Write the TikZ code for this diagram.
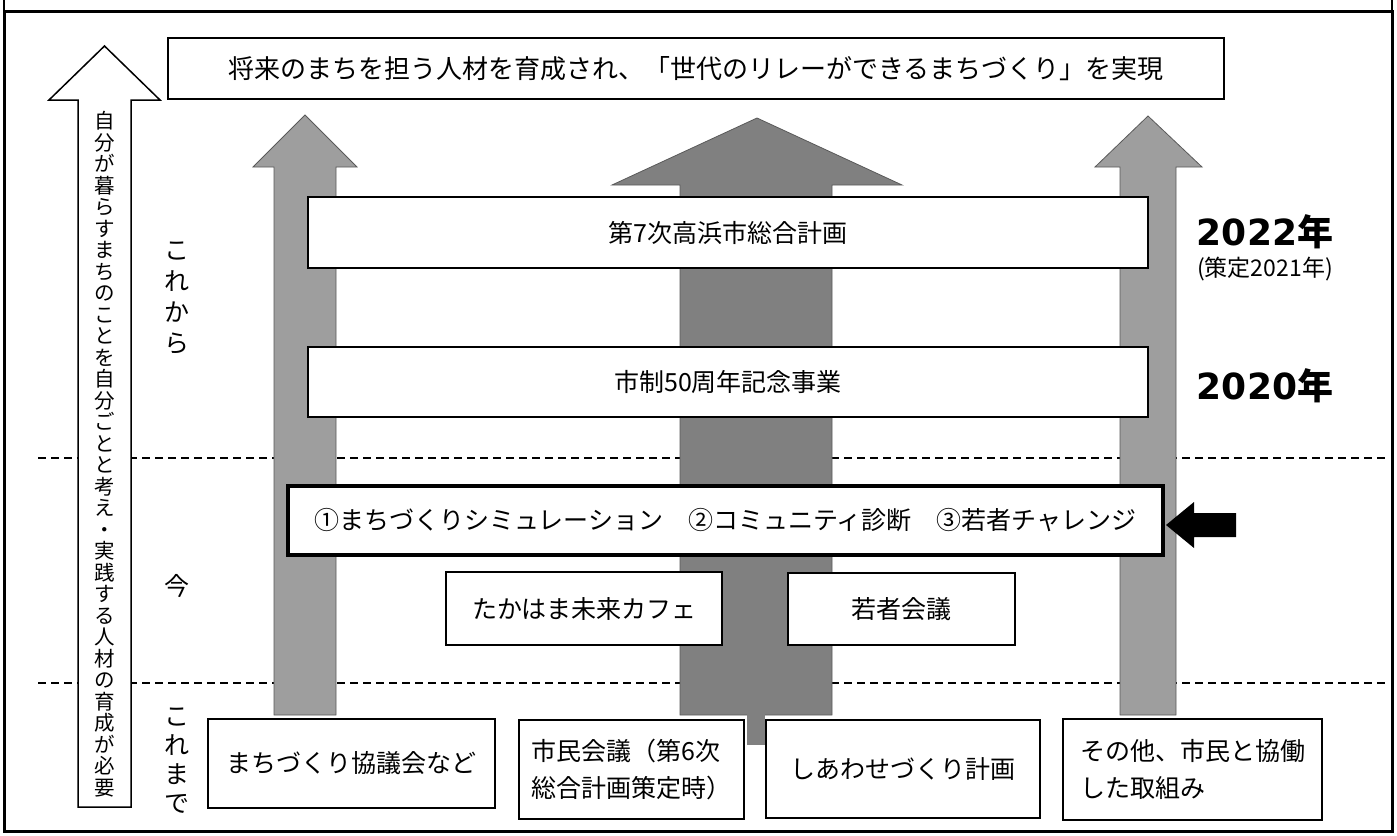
\documentclass[tikz,border=0pt]{standalone}
\usepackage{fontspec}
\setmainfont{Noto Sans CJK JP}
\newfontfamily\latinbold{DejaVu Sans}
\definecolor{texmid}{gray}{0.62}
\definecolor{texdark}{gray}{0.50}
\definecolor{texedge}{gray}{0.35}
\begin{document}
\begin{tikzpicture}[x=1pt,y=-1pt]
\tikzset{
  box/.style={draw=black, line width=1.8pt, fill=white, inner sep=0pt, font=\fontsize{25}{37}\selectfont},
  dashline/.style={draw=black, line width=1.5pt, dash pattern=on 8pt off 5pt},
  sidelabel/.style={inner sep=0pt, align=center},
  yearbig/.style={inner sep=0pt, anchor=base, font=\fontsize{36}{40}\selectfont\bfseries},
  tex/.style={draw=texedge, line width=0.8pt}
}
\useasboundingbox (0,0) rectangle (1397,835);
% outer frame
\draw[line width=3pt] (4,11) rectangle (1392,831);
\draw[line width=2pt] (4,0) -- (4,11) (1392,0) -- (1392,11);
% dashed separators
\coordinate (da1) at (38,458); \coordinate (db1) at (1386,458);
\coordinate (da2) at (38,683); \coordinate (db2) at (1386,683);
\draw[dashline] (da1) -- (db1);
\draw[dashline] (da2) -- (db2);
% textured arrows
\filldraw[tex, fill=texmid] (274,715) -- (274,167) -- (253,167) -- (305,115) -- (357,167) -- (336,167) -- (336,715) -- cycle;
\filldraw[tex, fill=texmid] (1120,715) -- (1120,167) -- (1095,167) -- (1148,116) -- (1202,167) -- (1176,167) -- (1176,715) -- cycle;
\filldraw[tex, fill=texdark] (680,715) -- (680,185) -- (612,185) -- (757,118) -- (902,185) -- (832,185) -- (832,715) -- cycle;
\fill[texdark] (747,714) rectangle (765,745);
% boxes
\node[box, line width=1.4pt, font=\fontsize{26}{30}\selectfont, minimum width=1056pt, minimum height=61pt] (goal) at (696,68.5) {将来のまちを担う人材を育成され、「世代のリレーができるまちづくり」を実現};
\node[box, minimum width=840pt, minimum height=71pt] (plan7) at (728,232.5) {第7次高浜市総合計画};
\node[box, minimum width=840pt, minimum height=70pt] (anniv) at (728,382) {市制50周年記念事業};
\node[box, line width=4.5pt, minimum width=875pt, minimum height=69pt] (now) at (725.5,520.5) {①まちづくりシミュレーション　②コミュニティ診断　③若者チャレンジ};
\node[box, minimum width=276pt, minimum height=73pt] (cafe) at (584,608.5) {たかはま未来カフェ};
\node[box, minimum width=227pt, minimum height=72pt] (youth) at (901.5,609) {若者会議};
\node[box, minimum width=287pt, minimum height=89pt] (council) at (351.5,763.5) {まちづくり協議会など};
\node[box, align=left, minimum width=225pt, minimum height=99pt] (citizen) at (631.5,769.5) {市民会議（第6次\\総合計画策定時）};
\node[box, minimum width=274pt, minimum height=98pt] (happy) at (903,769) {しあわせづくり計画};
\node[box, align=left, minimum width=259pt, minimum height=101pt] (other) at (1192.5,769.5) {その他、市民と協働\\した取組み};
% black pointer arrow
\fill[black] (1166,525) -- (1194,502) -- (1194,513) -- (1236,513) -- (1236,537) -- (1194,537) -- (1194,548) -- cycle;
% left hollow arrow
\filldraw[draw=black, fill=white, line width=1.5pt] (78,807) -- (78,100) -- (49,100) -- (104.5,46) -- (160,100) -- (131,100) -- (131,807) -- cycle;
\node[sidelabel, font=\fontsize{20.5}{21.5}\selectfont] (vtext) at (104.5,454) {自\\分\\が\\暮\\ら\\す\\ま\\ち\\の\\こ\\と\\を\\自\\分\\ご\\と\\と\\考\\え\\・\\実\\践\\す\\る\\人\\材\\の\\育\\成\\が\\必\\要};
% period labels
\node[sidelabel, font=\fontsize{25}{31}\selectfont] (future) at (177,298) {こ\\れ\\か\\ら};
\node[sidelabel, font=\fontsize{25}{30}\selectfont] (present) at (177,586) {今};
\node[sidelabel, font=\fontsize{25}{29}\selectfont] (past) at (177,761) {こ\\れ\\ま\\で};
% years
\node[yearbig] (y2022) at (1265,245) {{\latinbold 2022}年};
\node[inner sep=0pt, anchor=base, font=\fontsize{23}{25}\selectfont] (y2022s) at (1265,276) {(策定2021年)};
\node[yearbig] (y2020) at (1265,399) {{\latinbold 2020}年};
\end{tikzpicture}
\end{document}
